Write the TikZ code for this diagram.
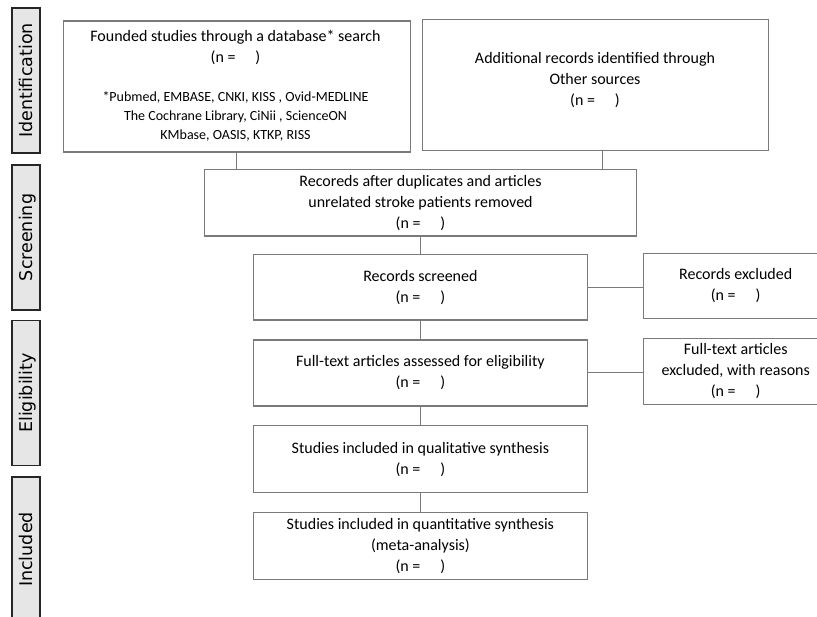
\documentclass[tikz,border=0pt]{standalone}
\usepackage{fontspec}
\setmainfont{Carlito}
\newfontfamily\stagefont{DejaVu Sans}
\usetikzlibrary{calc}
\definecolor{boxgray}{HTML}{7A7A7A}
\definecolor{stageborder}{HTML}{262626}
\definecolor{stagefill}{HTML}{E6E6E6}
\newcommand\nblank{(n =\hspace{20pt})}
\begin{document}
\begin{tikzpicture}[x=1pt,y=-1pt,
  box/.style={draw=boxgray, line width=1.1pt, inner sep=0pt, align=center,
    font=\fontsize{16}{21}\selectfont},
  plain/.style={inner sep=0pt, align=center, font=\fontsize{16}{21}\selectfont},
  small/.style={inner sep=0pt, align=center, font=\fontsize{14}{18.7}\selectfont},
  stage/.style={draw=stageborder, fill=stagefill, line width=1.8pt, rotate=90,
    minimum width=145pt, minimum height=28pt, inner sep=0pt,
    text height=12.8pt, text depth=0pt, font=\stagefont\fontsize{17.5}{20}\selectfont},
  link/.style={draw=boxgray, line width=1pt}
]
\useasboundingbox (0,0) rectangle (817,617);
\clip (0,0) rectangle (817,617);

% stage labels
\node[stage] (ident) at (26,80.5) {Identification};
\node[stage] (screen) at (26,237.5) {Screening};
\node[stage] (elig) at (26,393) {Eligibility};
\node[stage] (incl) at (26,549.5) {Included};

% identification boxes
\node[box, minimum width=346.7pt, minimum height=131pt] (dbbox) at (236.7,86.5) {};
\node[plain] (dbtitle) at (235.5,47) {Founded studies through a database* search\\\nblank};
\node[small] (dblist) at (235.5,116.5) {*Pubmed, EMBASE, CNKI, KISS , Ovid-MEDLINE\\The Cochrane Library, CiNii , ScienceON\\KMbase, OASIS, KTKP, RISS};

\node[box, minimum width=346pt, minimum height=131pt] (other) at (595.3,84.8) {};
\node[plain] (othertext) at (595,80.5) {Additional records identified through\\Other sources\\\nblank};

% flow boxes
\node[box, minimum width=432.4pt, minimum height=66.7pt] (dedup) at (420.5,202.7)
  {Recoreds after duplicates and articles\\unrelated stroke patients removed\\\nblank};
\node[box, minimum width=334pt, minimum height=65.7pt] (screened) at (420.4,287.2)
  {Records screened\\\nblank};
\node[box, minimum width=185pt, minimum height=65pt] (excluded) at (735.7,285.8)
  {Records excluded\\\nblank};
\node[box, minimum width=334pt, minimum height=66pt] (fulltext) at (420.4,373)
  {Full-text articles assessed for eligibility\\\nblank};
\node[box, minimum width=185pt, minimum height=66pt] (ftexcl) at (735.7,371.3)
  {Full-text articles\\excluded, with reasons\\\nblank};
\node[box, minimum width=334pt, minimum height=66.5pt] (qual) at (420.4,459.2)
  {Studies included in qualitative synthesis\\\nblank};
\node[box, minimum width=334pt, minimum height=66.7pt] (quant) at (420.4,545.7)
  {Studies included in quantitative synthesis\\(meta-analysis)\\\nblank};

% connectors
\draw[link] (dbbox.south) -- (dbbox.south |- dedup.north);
\coordinate (otherfoot) at ($(other.south)+(7.4,0)$);
\draw[link] (otherfoot) -- (otherfoot |- dedup.north);
\draw[link] (screened.north |- dedup.south) -- (screened.north);
\draw[link] (screened.south) -- (fulltext.north);
\draw[link] (fulltext.south) -- (qual.north);
\draw[link] (qual.south) -- (quant.north);
\draw[link] (screened.east) -- (screened.east -| excluded.west);
\draw[link] (fulltext.east) -- (fulltext.east -| ftexcl.west);
\end{tikzpicture}
\end{document}
